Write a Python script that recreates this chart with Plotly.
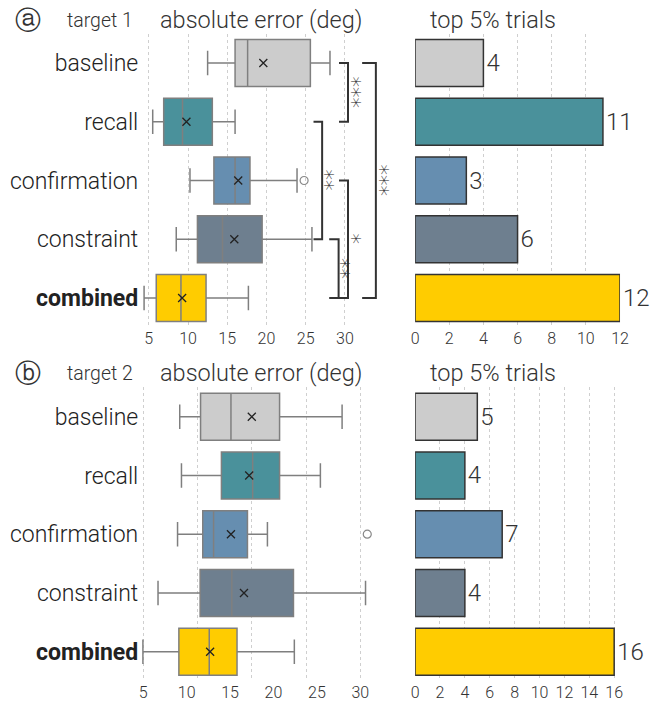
import plotly.graph_objects as go

# ---------------- data ----------------
categories = ["baseline", "recall", "confirmation", "constraint", "combined"]
category_labels = ["baseline", "recall", "confirmation", "constraint", "<b>combined</b>"]
colors = ["#cccccc", "#4a919b", "#668eb0", "#6e7f8f", "#ffcc00"]

# target 1 box statistics (absolute error, deg)
t1_lower = [12.5, 5.5, 10.25, 8.5, 4.4]
t1_q1 = [16.0, 6.9, 13.3, 11.2, 5.95]
t1_median = [17.6, 9.3, 16.0, 14.4, 9.1]
t1_q3 = [25.6, 13.1, 17.9, 19.45, 12.3]
t1_upper = [28.1, 16.0, 23.9, 25.8, 17.7]
t1_mean = [19.6, 9.8, 16.4, 15.9, 9.25]
t1_outliers = {"confirmation": [24.8]}
t1_top5 = [4, 11, 3, 6, 12]

# target 2 box statistics (absolute error, deg)
t2_lower = [9.2, 9.4, 8.95, 6.7, 4.96]
t2_q1 = [11.6, 14.0, 11.85, 11.55, 9.1]
t2_median = [15.1, 17.6, 13.1, 15.2, 12.6]
t2_q3 = [20.7, 20.7, 17.0, 22.3, 15.8]
t2_upper = [27.9, 25.4, 19.3, 30.6, 22.4]
t2_mean = [17.5, 17.2, 15.1, 16.6, 12.7]
t2_outliers = {"confirmation": [30.8]}
t2_top5 = [5, 4, 7, 4, 16]

box_ticks = [5, 10, 15, 20, 25, 30]
bar_ticks_1 = [0, 2, 4, 6, 8, 10, 12]
bar_ticks_2 = [0, 2, 4, 6, 8, 10, 12, 14, 16]

# significance brackets for target 1: (from, to, stars)
sig_pairs = [("baseline", "recall", "***"),
             ("recall", "constraint", "**"),
             ("confirmation", "combined", "*"),
             ("constraint", "combined", "**"),
             ("baseline", "combined", "***")]

# ---------------- layout helpers ----------------
W, H = 665, 704
FONT = "Roboto"
TXT = "#333333"
EDGE = "#7f7f7f"


def px(x):
    return x / W


def py(y):
    return 1 - y / H


fig = go.Figure()

# axes positions (pixels)
left_dom = [px(140), px(400)]
right_dom = [px(419.3), px(628.3)]
top_dom = [py(327.4), py(33.6)]
bot_dom = [py(681.1), py(387.3)]


def add_boxes(xa, ya, lower, q1, med, q3, upper, mean, outliers):
    for i, c in enumerate(categories):
        fig.add_trace(go.Box(
            y=[i], q1=[q1[i]], median=[med[i]], q3=[q3[i]],
            lowerfence=[lower[i]], upperfence=[upper[i]],
            orientation="h", width=0.8, whiskerwidth=0.52,
            fillcolor=colors[i], line=dict(color=EDGE, width=1.5),
            boxpoints=False, showlegend=False, xaxis=xa, yaxis=ya))
        if c in outliers:
            fig.add_trace(go.Scatter(
                x=outliers[c], y=[i] * len(outliers[c]), mode="markers",
                marker=dict(symbol="circle-open", size=8, color="#888888",
                            line=dict(width=1.2)),
                showlegend=False, xaxis=xa, yaxis=ya))
    fig.add_trace(go.Scatter(
        x=mean, y=list(range(len(categories))), mode="markers",
        marker=dict(symbol="x-thin-open", size=8, color="#222222",
                    line=dict(width=1.3, color="#222222")),
        showlegend=False, xaxis=xa, yaxis=ya))


def add_bars(xa, ya, vals):
    fig.add_trace(go.Bar(
        y=list(range(len(categories))), x=vals, orientation="h", width=0.8,
        marker=dict(color=colors, line=dict(color="#333333", width=1.5)),
        text=[str(v) for v in vals], textposition="outside",
        textfont=dict(size=24, color=TXT, family=FONT, weight=300),
        cliponaxis=False, showlegend=False, xaxis=xa, yaxis=ya))


add_boxes("x", "y", t1_lower, t1_q1, t1_median, t1_q3, t1_upper, t1_mean, t1_outliers)
add_bars("x2", "y2", t1_top5)
add_boxes("x3", "y3", t2_lower, t2_q1, t2_median, t2_q3, t2_upper, t2_mean, t2_outliers)
add_bars("x4", "y4", t2_top5)

grid = dict(showgrid=True, gridcolor="#cfcfcf", griddash="dot", gridwidth=1,
            zeroline=False, showline=False, ticks="",
            tickfont=dict(size=16, color=TXT, family=FONT, weight=300))
yax = dict(range=[4.5, -0.5], showgrid=False, zeroline=False, showline=False,
           ticks="", tickvals=list(range(len(categories))))
ylab = dict(size=23, color="#222222", family=FONT, weight=300)

fig.update_layout(
    width=W, height=H, autosize=False, margin=dict(l=0, r=0, t=0, b=0),
    plot_bgcolor="white", paper_bgcolor="white", boxmode="overlay",
    font=dict(family=FONT, color=TXT, weight=300),
    xaxis=dict(domain=left_dom, anchor="y", range=[4.04, 36.54],
               tickvals=box_ticks, **grid),
    yaxis=dict(domain=top_dom, anchor="x", ticktext=category_labels,
               tickfont=ylab, ticklabelstandoff=2, **yax),
    xaxis2=dict(domain=right_dom, anchor="y2", range=[0, 12],
                tickvals=bar_ticks_1, **grid),
    yaxis2=dict(domain=top_dom, anchor="x2", showticklabels=False, **yax),
    xaxis3=dict(domain=left_dom, anchor="y3", range=[4.77, 34.13],
                tickvals=box_ticks,
                **{**grid, "showgrid": False},
                minor=dict(showgrid=True, tick0=5, dtick=6.25,
                           gridcolor="#cfcfcf", griddash="dot", gridwidth=1)),
    yaxis3=dict(domain=bot_dom, anchor="x3", ticktext=category_labels,
                tickfont=ylab, ticklabelstandoff=2, **yax),
    xaxis4=dict(domain=right_dom, anchor="y4", range=[0, 16.47],
                tickvals=bar_ticks_2, **grid),
    yaxis4=dict(domain=bot_dom, anchor="x4", showticklabels=False, **yax),
)

# ---------------- significance brackets (target 1) ----------------
# horizontal placement of each bracket (axis units) and star label
bracket_x = [(29.25, 30.4, 31.4), (26.0, 27.1, 28.1), (29.25, 30.4, 31.4),
             (28.0, 29.2, 30.1), (32.2, 33.95, 35.1)]
for (a, b, stars), (xl, xr, xs) in zip(sig_pairs, bracket_x):
    ia, ib = categories.index(a), categories.index(b)
    fig.add_shape(type="path", xref="x", yref="y",
                  path=f"M {xl},{ia} L {xr},{ia} L {xr},{ib} L {xl},{ib}",
                  line=dict(color="#333333", width=2))
    fig.add_annotation(x=xs, y=(ia + ib) / 2, xref="x", yref="y", text=stars,
                       showarrow=False, textangle=90, xshift=-4,
                       xanchor="center", yanchor="middle",
                       font=dict(size=21, color="#222222", family="DejaVu Sans"))

# ---------------- headers ----------------
hdr = dict(size=23.5, color=TXT, family=FONT, weight=300)
for yy, letter, tgt in [(20, "ⓐ", "target 1"), (373, "ⓑ", "target 2")]:
    fig.add_annotation(x=px(24.5), y=py(yy), xref="paper", yref="paper",
                       text=letter, showarrow=False, xanchor="center",
                       yanchor="middle",
                       font=dict(size=26, color=TXT, family="DejaVu Sans", weight=300))
    fig.add_annotation(x=px(62), y=py(yy), xref="paper", yref="paper",
                       text=tgt, showarrow=False, xanchor="left",
                       yanchor="middle", font=dict(hdr, size=19.5))
    fig.add_annotation(x=px(157), y=py(yy), xref="paper", yref="paper",
                       text="absolute error (deg)", showarrow=False,
                       xanchor="left", yanchor="middle", font=hdr)
    fig.add_annotation(x=px(499), y=py(yy), xref="paper", yref="paper",
                       text="top 5% trials", showarrow=False,
                       xanchor="center", yanchor="middle", font=hdr)

fig.write_html(
    "out.html",
    config={"displayModeBar": False, "responsive": False},
    post_script=(
        "document.documentElement.style.overflow='hidden';"
        "document.body.style.overflow='hidden';"
        "document.body.style.margin='0';document.body.style.padding='0';"
        "var gd=document.getElementById('{plot_id}');"
        "Plotly.relayout(gd,{width:665,height:704});"
    ),
)
